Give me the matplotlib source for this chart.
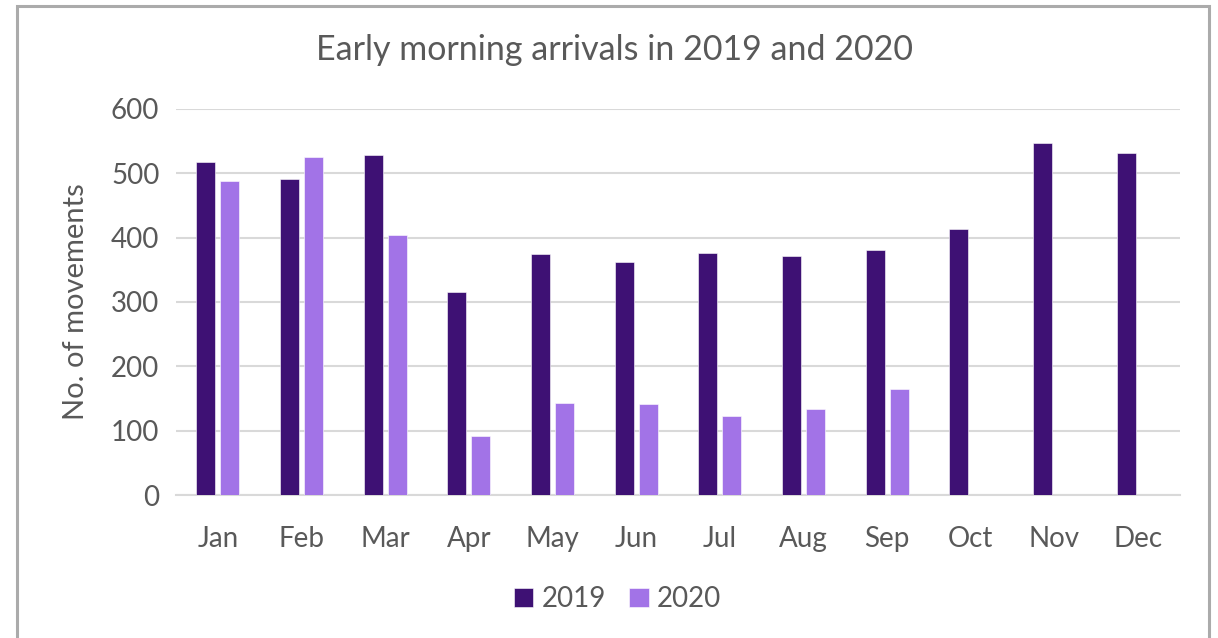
import numpy as np
import matplotlib.pyplot as plt
from matplotlib.patches import Rectangle

months = ['Jan', 'Feb', 'Mar', 'Apr', 'May', 'Jun', 'Jul', 'Aug', 'Sep', 'Oct', 'Nov', 'Dec']
arr_2019 = [517, 491, 528, 316, 375, 362, 376, 371, 381, 413, 547, 532]
arr_2020 = [488, 526, 404, 92, 143, 142, 123, 133, 165]

c2019 = '#3E1174'
c2020 = '#A273E7'
txt = '#595959'

plt.rcParams['font.family'] = ['Lato', 'DejaVu Sans']

fig = plt.figure(figsize=(12.18, 6.38), dpi=100)
ax = fig.add_axes([0.1445, 0.2241, 0.8243, 0.6051])

x = np.arange(len(months))
w = 0.227
ax.bar(x - 0.142, arr_2019, w, color=c2019, edgecolor='white', linewidth=0.4, label='2019', zorder=3)
ax.bar(np.arange(len(arr_2020)) + 0.142, arr_2020, w, color=c2020, edgecolor='white', linewidth=0.4,
       label='2020', zorder=3)

ax.set_xlim(-0.5, 11.5)
ax.set_ylim(0, 600)
ax.set_yticks(range(0, 601, 100))
ax.set_xticks(x)
ax.set_xticklabels(months)
ax.yaxis.grid(True, color='#D9D9D9', linewidth=1.5, zorder=0)
for s in ['top', 'right', 'left']:
    ax.spines[s].set_visible(False)
ax.spines['bottom'].set_color('#D9D9D9')
ax.spines['bottom'].set_linewidth(1.5)
ax.tick_params(axis='both', length=0, labelsize=20, colors=txt)
ax.tick_params(axis='x', pad=22)
ax.tick_params(axis='y', pad=12)

ax.set_ylabel('No. of movements', fontsize=21, color=txt, labelpad=16)
fig.text(0.5049, 0.922, 'Early morning arrivals in 2019 and 2020', ha='center', va='center',
         fontsize=24.5, color=txt)

leg = fig.legend(loc='center', bbox_to_anchor=(0.507, 0.061), ncol=2, frameon=False,
                 fontsize=20, handlelength=0.7, handleheight=0.7, handletextpad=0.3,
                 columnspacing=0.85)
for t in leg.get_texts():
    t.set_color(txt)

fig.patches.append(Rectangle((17 / 1218, -0.1), 1192 / 1218, 1.1 - 6 / 638, transform=fig.transFigure,
                             fill=False, edgecolor='#ABABAB', linewidth=2.2))

fig.savefig('out.png', dpi=100)
